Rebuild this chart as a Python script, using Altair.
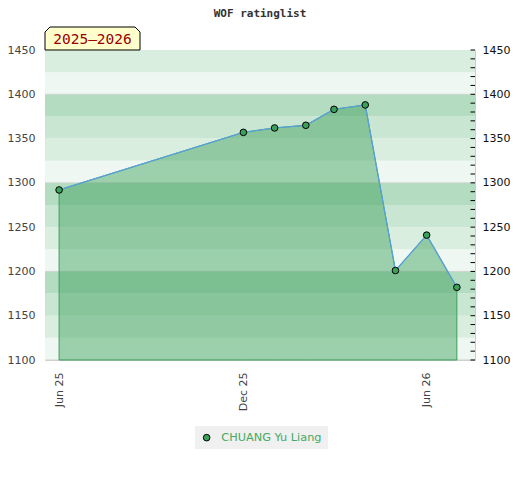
import altair as alt
import pandas as pd

# ---------------- data ----------------
player = "CHUANG Yu Liang"
dates = ["2025-06-01", "2025-12-01", "2026-01-01", "2026-02-01", "2026-03-01",
         "2026-04-01", "2026-05-01", "2026-06-01", "2026-07-01"]
ratings = [1292, 1357, 1362, 1365, 1383, 1388, 1201, 1241, 1182]

band_lo = [1100, 1125, 1150, 1175, 1200, 1225, 1250, 1275, 1300, 1325, 1350, 1375, 1400, 1425]
band_hi = [1125, 1150, 1175, 1200, 1225, 1250, 1275, 1300, 1325, 1350, 1375, 1400, 1425, 1450]
band_color = ["#eef7f1", "#daeee0", "#c9e6d2", "#b3dcc0",
              "#eef7f1", "#daeee0", "#c9e6d2", "#b3dcc0",
              "#eef7f1", "#daeee0", "#c9e6d2", "#b3dcc0",
              "#eef7f1", "#daeee0"]
grid_values = [1100, 1200, 1300, 1400]
major_ticks = [1100, 1150, 1200, 1250, 1300, 1350, 1400, 1450]
minor_ticks = list(range(1100, 1451, 10))
season_label = "2025\u20132026"
title_text = "WOF ratinglist"

W, H = 430, 310
Y_DOMAIN = [1100, 1450]
GREEN = "#3aa05a"

df = pd.DataFrame({"date": dates, "rating": ratings, "player": [player] * len(dates)})
bands = pd.DataFrame({"lo": band_lo, "hi": band_hi, "c": band_color})
grid = pd.DataFrame({"g": grid_values})
ticks = pd.DataFrame({"t": minor_ticks})
lab = pd.DataFrame({"label": [season_label]})

yscale = alt.Scale(domain=Y_DOMAIN, zero=False, nice=False)
xscale = alt.Scale(type="utc",
                   domain=[alt.DateTime(year=2025, month=5, date=18, utc=True),
                           alt.DateTime(year=2026, month=7, date=19, utc=True)])

x_axis = alt.Axis(values=[alt.DateTime(year=2025, month=6, date=1, utc=True),
                          alt.DateTime(year=2025, month=12, date=1, utc=True),
                          alt.DateTime(year=2026, month=6, date=1, utc=True)],
                  format="%b %y", labelAngle=270, ticks=False, domain=False, grid=False,
                  labelPadding=12, labelColor="#444444", labelFont="DejaVu Sans",
                  labelFontSize=11, title=None)

left_axis = alt.Axis(values=major_ticks, format="d", ticks=False, domain=False, grid=False,
                     labelColor="#444444", labelFont="DejaVu Sans", labelFontSize=11,
                     labelPadding=10, title=None)

band_layer = alt.Chart(bands).mark_rect().encode(
    x=alt.value(0), x2=alt.value(W),
    y=alt.Y("lo:Q", scale=yscale, axis=left_axis),
    y2="hi:Q",
    color=alt.Color("c:N", scale=None),
)

grid_layer = alt.Chart(grid).mark_rule(color="#cfd3cf", strokeWidth=1).encode(
    x=alt.value(0), x2=alt.value(W),
    y=alt.Y("g:Q", scale=yscale, axis=left_axis),
)

area_layer = alt.Chart(df).mark_area(
    color=GREEN, fillOpacity=0.46, stroke=GREEN, strokeWidth=1
).encode(
    x=alt.X("date:T", scale=xscale, axis=x_axis),
    y=alt.Y("rating:Q", scale=yscale, axis=left_axis),
    y2=alt.datum(1100),
)

line_layer = alt.Chart(df).mark_line(color="#5aa0dc", strokeWidth=1.3).encode(
    x=alt.X("date:T", scale=xscale, axis=x_axis),
    y=alt.Y("rating:Q", scale=yscale, axis=left_axis),
)

point_layer = alt.Chart(df).mark_circle(
    size=44, opacity=1, stroke="black", strokeWidth=1
).encode(
    x=alt.X("date:T", scale=xscale, axis=x_axis),
    y=alt.Y("rating:Q", scale=yscale, axis=left_axis),
    fill=alt.Fill("player:N", scale=alt.Scale(domain=[player], range=[GREEN]),
                  legend=alt.Legend(orient="none", legendX=150, legendY=376, title=None,
                                    fillColor="#f0f0f0", padding=6,
                                    labelColor="#45aa60", labelFont="DejaVu Sans",
                                    labelFontSize=11.3, labelOffset=9,
                                    symbolType="circle", symbolSize=44,
                                    symbolStrokeColor="black", symbolStrokeWidth=1,
                                    symbolFillColor=GREEN)),
)

box_path = "M-1,0.242L-1,-0.137L-0.895,-0.242L0.895,-0.242L1,-0.137L1,0.242Z"
box_layer = alt.Chart(lab).mark_point(
    shape=box_path, size=9025, filled=True, fill="#ffffcc", stroke="black",
    strokeWidth=1, opacity=1
).encode(x=alt.value(47.5), y=alt.value(-11.5))

box_text = alt.Chart(lab).mark_text(
    font="DejaVu Sans Mono", fontSize=14.5, color="#990000",
    align="center", baseline="middle"
).encode(x=alt.value(47.5), y=alt.value(-10.5), text="label:N")

right_layer = alt.Chart(ticks).mark_rule(color="black", strokeWidth=1).encode(
    x=alt.value(W - 4.5), x2=alt.value(W),
    y=alt.Y("t:Q", scale=yscale,
            axis=alt.Axis(orient="right", values=major_ticks, format="d", ticks=False,
                          domain=False, grid=False, labelColor="#111111",
                          labelFont="DejaVu Sans", labelFontSize=11, labelPadding=7,
                          title=None)),
)

main = alt.layer(band_layer, grid_layer, area_layer, line_layer, point_layer,
                 box_layer, box_text)

chart = alt.layer(main, right_layer).resolve_scale(y="independent").properties(
    width=W, height=H,
    title=alt.TitleParams(title_text, font="DejaVu Sans Mono", fontSize=11,
                          fontWeight="bold", color="#333333", anchor="middle", offset=6),
    autosize=alt.AutoSizeParams(type="none"),
    padding={"left": 37, "top": 42, "right": 37, "bottom": 110},
).configure_view(stroke="#cccccc", strokeWidth=1)

chart.save("out.html", embed_options={"renderer": "svg", "actions": False})
